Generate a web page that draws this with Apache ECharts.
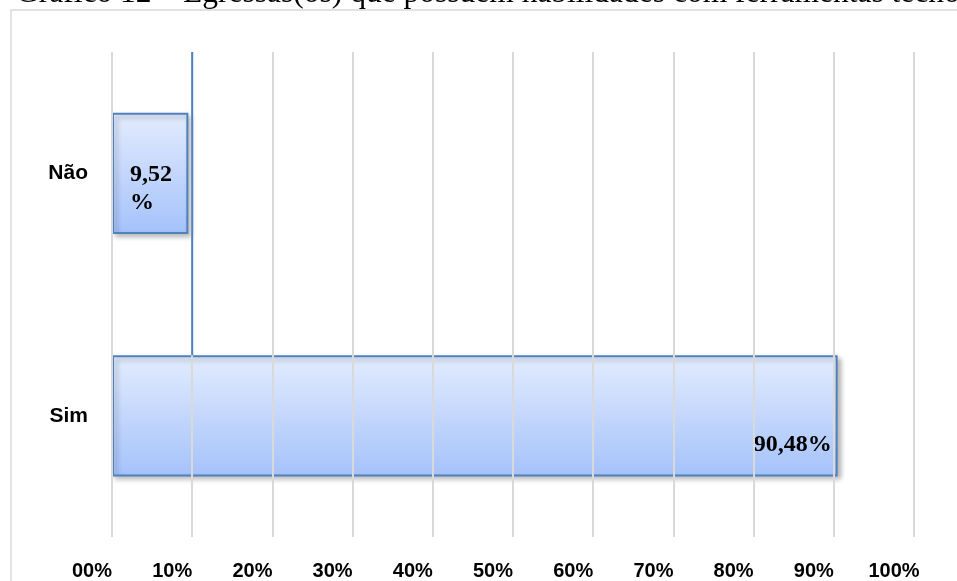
<!DOCTYPE html>
<html>
<head>
<meta charset="utf-8">
<script src="https://cdn.jsdelivr.net/npm/echarts@6/dist/echarts.min.js"></script>
<style>
  html, body { margin: 0; padding: 0; background: #fff; }
  #chart { width: 957px; height: 581px; }
</style>
</head>
<body>
<div id="chart"></div>
<script>
// Respostas (de baixo para cima no eixo vertical)
const categories = ['Sim', 'Não'];
const percentValues = [90.48, 9.52];
const tickLabels = ['00%', '10%', '20%', '30%', '40%', '50%', '60%', '70%', '80%', '90%', '100%'];
const titleText = 'Gráfico 12 – Egressas(os) que possuem habilidades com ferramentas tecnológicas';
// Linha de referência azul em 10%
const refLineX = 10;

const fmt = v => v.toFixed(2).replace('.', ',') + '%';

const valueFont = {
  fontFamily: '"Liberation Serif", "Times New Roman", serif',
  fontWeight: 'bold',
  fontSize: 24,
  color: '#000'
};

const labelNarrow = Object.assign({}, valueFont, {
  show: true,
  position: [18, 48],
  align: 'left',
  verticalAlign: 'top',
  lineHeight: 28,
  formatter: p => fmt(p.value).replace('%', '\n%')
});

const labelWide = Object.assign({}, valueFont, {
  show: true,
  position: ['100%', '100%'],
  align: 'right',
  verticalAlign: 'bottom',
  offset: [-6, -20],
  formatter: p => fmt(p.value)
});

const barData = percentValues.map((v, i) => ({
  value: v,
  label: v < 20 ? labelNarrow : labelWide
}));

const chart = echarts.init(document.getElementById('chart'), null, { renderer: 'canvas' });

chart.setOption({
  backgroundColor: '#fff',
  animation: false,
  graphic: [
    {
      type: 'rect',
      z: 0,
      shape: { x: 11, y: 10, width: 1200, height: 800 },
      style: { fill: 'none', stroke: '#d9d9d9', lineWidth: 1.5 }
    },
    {
      type: 'text',
      z: 1,
      x: 16,
      y: 10,
      style: {
        text: titleText,
        fill: '#000',
        font: '31.5px "Liberation Serif", "Times New Roman", serif',
        verticalAlign: 'bottom'
      }
    }
  ],
  grid: { left: 112, right: 43, top: 52, bottom: 44, containLabel: false },
  xAxis: {
    type: 'value',
    min: 0,
    max: 100,
    interval: 10,
    z: 3,
    axisLine: { show: false },
    axisTick: { show: false },
    splitLine: { show: true, lineStyle: { color: '#d9d9d9', width: 2 } },
    axisLabel: {
      margin: 24,
      padding: [0, 40, 0, 0],
      fontFamily: '"Liberation Sans", Arial, sans-serif',
      fontWeight: 'bold',
      fontSize: 20,
      color: '#000',
      formatter: v => tickLabels[Math.round(v / 10)]
    }
  },
  yAxis: [
    {
      type: 'category',
      data: categories,
      axisLine: { show: false },
      axisTick: { show: false },
      splitLine: { show: false },
      axisLabel: {
        margin: 24,
        fontFamily: '"Liberation Sans", Arial, sans-serif',
        fontWeight: 'bold',
        fontSize: 21,
        color: '#000'
      }
    },
    {
      type: 'value',
      min: 0,
      max: categories.length,
      show: false
    }
  ],
  series: [
    {
      type: 'bar',
      yAxisIndex: 0,
      barWidth: '50%',
      z: 2,
      data: barData,
      itemStyle: {
        color: {
          type: 'linear', x: 0, y: 0, x2: 0, y2: 1,
          colorStops: [
            { offset: 0, color: '#e3ecfe' },
            { offset: 1, color: '#a4c2fa' }
          ]
        },
        borderColor: '#4f81bd',
        borderWidth: 2,
        shadowColor: 'rgba(0,0,0,0.28)',
        shadowBlur: 5,
        shadowOffsetX: 3,
        shadowOffsetY: 3
      }
    },
    {
      // linha azul em 10%, do topo da área até o topo da barra "Sim"
      type: 'line',
      yAxisIndex: 1,
      z: 4,
      symbol: 'none',
      silent: true,
      lineStyle: { color: '#4f81bd', width: 2 },
      data: [[refLineX, categories.length], [refLineX, 0.75]]
    }
  ]
});
</script>
</body>
</html>
